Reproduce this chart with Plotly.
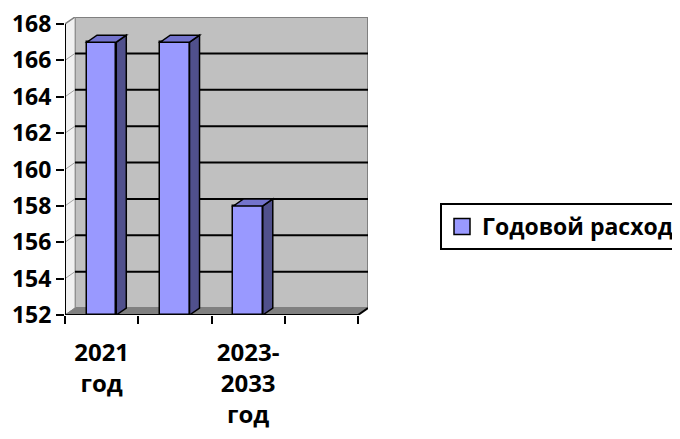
import plotly.graph_objects as go

categories = ["2021 год", "2022 год", "2023-2033 год", ""]
values = [167, 167, 158]
series_name = "Годовой расход"
tick_labels = ["2021<br>год", "", "2023-<br>2033<br>год", ""]
y_ticks = [152, 154, 156, 158, 160, 162, 164, 166, 168]

# layout constants (page body adds an 8px offset)
OFF = 8
W, H = 680, 439
ML, MT = 65 - OFF, 17 - OFF
PLOT_W, PLOT_H = 303, 298
n = len(categories)
ymin, ymax = y_ticks[0], y_ticks[-1]
px_per_x = (PLOT_W - 10) / n
px_per_y = (PLOT_H - 7) / (ymax - ymin)
dx = 10 / px_per_x
dy = 7 / px_per_y
bw = 0.4
x0, x1 = -0.5, n - 0.5

FRONT = "#9999FF"
SIDE = "#50508C"
TOP = "#7373CC"
WALL = "#C0C0C0"
FLOOR = "#808080"

xs = list(range(len(values)))

fig = go.Figure()
fig.add_trace(go.Bar(
    x=xs, y=[v - ymin for v in values], base=ymin, width=bw,
    marker=dict(color=FRONT, line=dict(color="black", width=1.5)),
    name=series_name, showlegend=False,
))
# legend entry with a square swatch
fig.add_trace(go.Scatter(
    x=[None], y=[None], mode="markers", name=series_name,
    marker=dict(symbol="square", size=16, color=FRONT, line=dict(color="black", width=1.5)),
    showlegend=True,
))

shapes = []
def poly(pts, fill, line_color="black", lw=1.5, layer="above"):
    p = "M " + " L ".join(f"{a},{b}" for a, b in pts) + " Z"
    shapes.append(dict(type="path", path=p, xref="x", yref="y", fillcolor=fill,
                       line=dict(color=line_color, width=lw), layer=layer))
def seg(a, b, c, d, color="black", lw=1.5, layer="below"):
    shapes.append(dict(type="line", x0=a, y0=b, x1=c, y1=d, xref="x", yref="y",
                       line=dict(color=color, width=lw), layer=layer))

# back wall
poly([(x0 + dx, ymin + dy), (x1 + dx, ymin + dy), (x1 + dx, ymax + dy), (x0 + dx, ymax + dy)],
     WALL, "#808080", 2, "below")
# left side wall
poly([(x0, ymin), (x0 + dx, ymin + dy), (x0 + dx, ymax + dy), (x0, ymax)],
     "#F0F0F0", "#A0A0A0", 1, "below")
# gridlines on back wall
for t in y_ticks[1:-1]:
    seg(x0 + dx, t + dy, x1 + dx, t + dy, "black", 2)
    seg(x0, t, x0 + dx, t + dy, "#A0A0A0", 1)
seg(x0, ymax, x0 + dx, ymax + dy, "#808080", 1.5)
# floor
poly([(x0, ymin), (x1, ymin), (x1 + dx, ymin + dy), (x0 + dx, ymin + dy)],
     FLOOR, FLOOR, 1, "below")
seg(x1, ymin, x1 + dx, ymin + dy, "black", 2, "above")
# axes lines
seg(x0, ymin, x0, ymax, "black", 2, "above")
seg(x0, ymin, x1, ymin, "black", 2, "above")

# bar 3D faces
for x, v in zip(xs, values):
    r = x + bw / 2
    l = x - bw / 2
    poly([(r, ymin), (r, v), (r + dx, v + dy), (r + dx, ymin + dy)], SIDE)
    poly([(l, v), (r, v), (r + dx, v + dy), (l + dx, v + dy)], TOP)

font = dict(family="Open Sans", size=24, color="black", weight="bold")
yfont = dict(family="Open Sans", size=23, color="black", weight="bold")

fig.update_layout(
    width=W, height=H,
    margin=dict(l=ML, r=W - ML - PLOT_W, t=MT, b=H - MT - PLOT_H, autoexpand=False),
    paper_bgcolor="white", plot_bgcolor="rgba(0,0,0,0)",
    shapes=shapes,
    showlegend=True,
    legend=dict(x=(440 - OFF - ML) / PLOT_W, y=(MT + PLOT_H - (203 - OFF)) / PLOT_H,
                xanchor="left", yanchor="top",
                bordercolor="black", borderwidth=2, bgcolor="white",
                itemwidth=30,
                font=dict(family="Open Sans", size=23, color="black", weight="bold")),
    xaxis=dict(range=[x0, x1 + dx], tickvals=list(range(n)), ticktext=tick_labels,
               ticks="outside", ticklen=0, showgrid=False, zeroline=False, showline=False,
               tickfont=font, ticklabelstandoff=16, ticklabeloverflow="allow",
               minor=dict(tickvals=[i - 0.5 for i in range(n + 1)], ticks="outside",
                          ticklen=8, tickwidth=2, tickcolor="black", showgrid=False)),
    yaxis=dict(range=[ymin, ymax + dy], tickvals=y_ticks, ticks="outside", ticklen=8,
               tickwidth=2, tickcolor="black", showgrid=False, zeroline=False,
               showline=False, tickfont=yfont, ticklabelstandoff=0,
               ticklabeloverflow="allow"),
    bargap=0,
)

fig.write_html("out.html")
